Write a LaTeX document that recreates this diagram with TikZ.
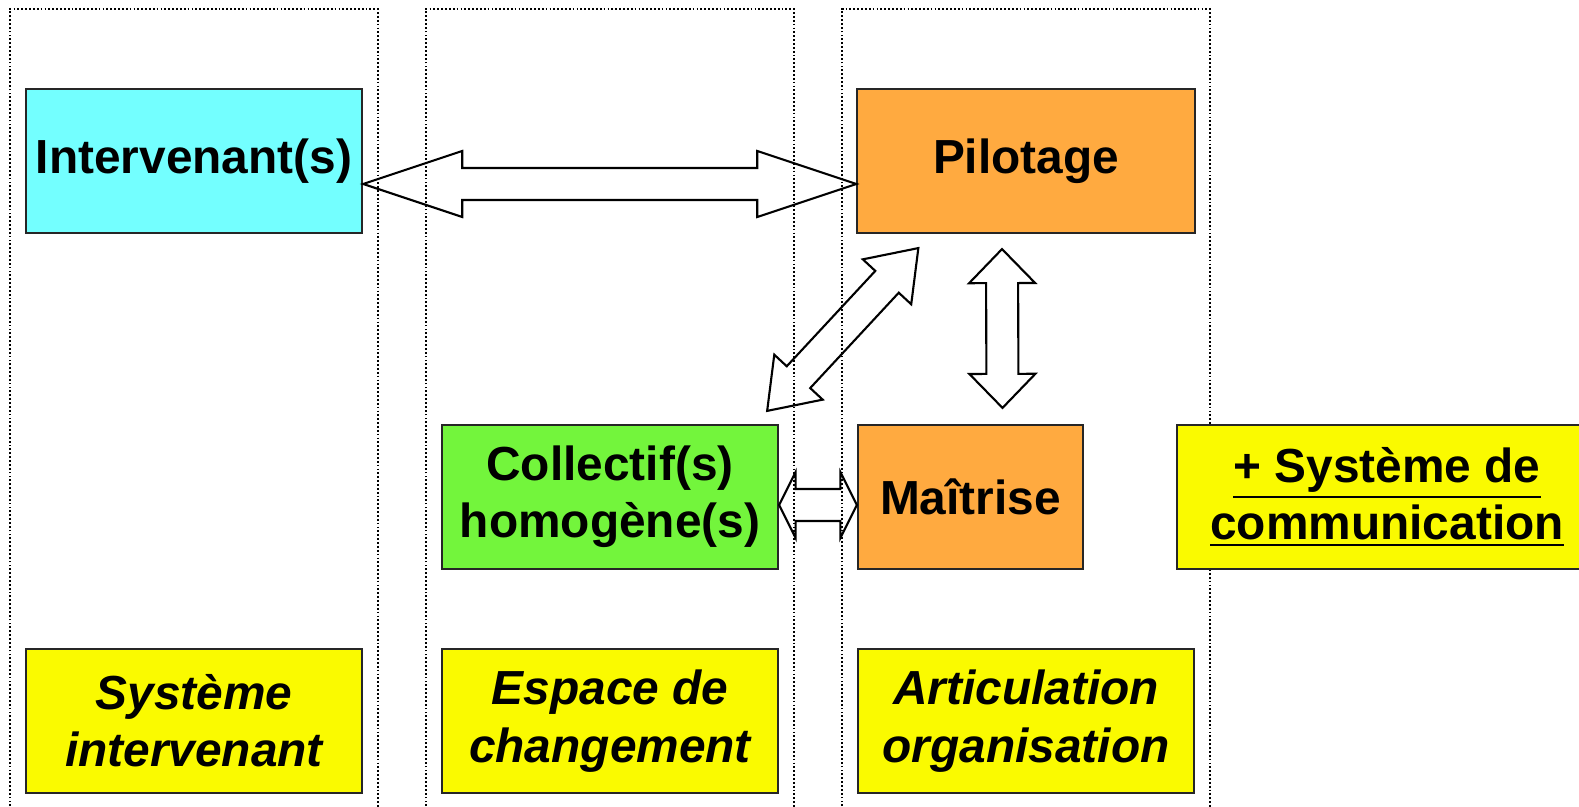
\documentclass[tikz,border=0pt]{standalone}
\usepackage{fontspec}
\setmainfont{Liberation Sans}
\usetikzlibrary{calc}

\definecolor{boxcyan}{RGB}{115,255,255}
\definecolor{boxorange}{RGB}{255,170,64}
\definecolor{boxgreen}{RGB}{115,245,60}
\definecolor{boxyellow}{RGB}{250,250,0}

\tikzset{
  block/.style={draw=black!85, line width=0.6pt, minimum height=1.44cm, inner sep=0pt, align=center, font=\fontsize{13.6}{16.3}\selectfont\bfseries},
  caption/.style={block, fill=boxyellow, minimum width=3.36cm, font=\fontsize{13.6}{16.3}\selectfont\bfseries\itshape},
  colframe/.style={line width=0.4pt, dash pattern=on 0.5pt off 0.6pt},
  bigarrow/.style={draw=black, line width=0.6pt, line join=miter}
}

% #1 head length, #2 and #3 the two tips
\newcommand{\dblarrow}[3]{%
  \draw[bigarrow] (#2)
    -- ($(#2)!#1!(#3)!0.33cm!90:(#3)$)
    -- ($(#2)!#1!(#3)!0.16cm!90:(#3)$)
    -- ($(#3)!#1!(#2)!0.16cm!-90:(#2)$)
    -- ($(#3)!#1!(#2)!0.33cm!-90:(#2)$)
    -- (#3)
    -- ($(#3)!#1!(#2)!0.33cm!90:(#2)$)
    -- ($(#3)!#1!(#2)!0.16cm!90:(#2)$)
    -- ($(#2)!#1!(#3)!0.16cm!-90:(#3)$)
    -- ($(#2)!#1!(#3)!0.33cm!-90:(#3)$)
    -- cycle;}

\begin{document}
\begin{tikzpicture}[x=0.01cm, y=-0.01cm]
\useasboundingbox (0,0) rectangle (1579,807);

% the three columns
\draw[colframe] (10,810) -- (10,9) -- (378,9) -- (378,810);
\draw[colframe] (426,810) -- (426,9) -- (794,9) -- (794,810);
\draw[colframe] (842,810) -- (842,9) -- (1210,9) -- (1210,810);

\node[block, fill=boxcyan, minimum width=3.36cm] (interv) at (194,161) {Intervenant(s)};
\node[block, fill=boxorange, minimum width=3.37cm] (pilot) at (1026,161) {Pilotage};
\node[block, fill=boxgreen, minimum width=3.36cm] (collect) at (610,497) {Collectif(s)\\homogène(s)};
\node[block, fill=boxorange, minimum width=2.25cm] (maitr) at (970.5,497) {Maîtrise};
\node[block, fill=boxyellow, minimum width=4.2cm] (comm) at (1387,497) {\underline{+ Système de}\\\underline{communication}};

\node[caption] (capA) at (194,721) {Système\\intervenant};
\node[caption] (capB) at (610,721) {Espace de\\changement};
\node[caption] (capC) at (1026,721) {Articulation\\organisation};

% arrow ends
\coordinate (h1) at ($(interv.east)+(0,23)$);
\coordinate (h2) at ($(pilot.west)+(0,23)$);
\coordinate (d1) at ($(collect.north east)+(-12,-13)$);
\coordinate (d2) at ($(pilot.south west)+(62,14)$);
\coordinate (v1) at ($(pilot.south)+(-24,15)$);
\coordinate (v2) at ($(maitr.north)+(32,-16)$);
\coordinate (s1) at ($(collect.east)+(0,8)$);
\coordinate (s2) at ($(maitr.west)+(0,8)$);

\dblarrow{0.99cm}{h1}{h2}
\dblarrow{0.46cm}{d1}{d2}
\dblarrow{0.34cm}{v1}{v2}
\dblarrow{0.165cm}{s1}{s2}
\end{tikzpicture}
\end{document}
